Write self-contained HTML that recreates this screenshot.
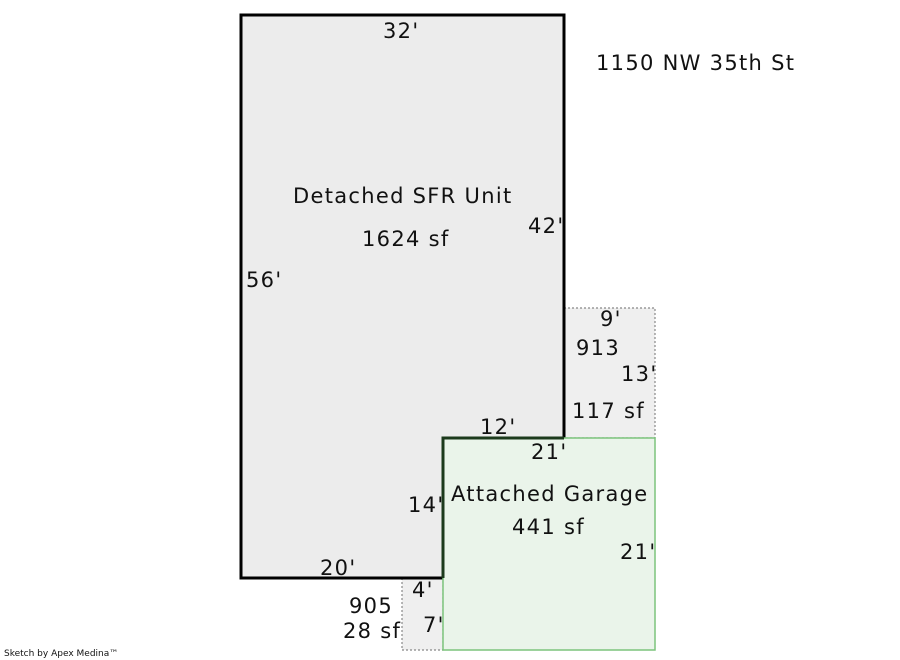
<!DOCTYPE html>
<html><head><meta charset="utf-8"><style>
html,body{margin:0;padding:0;background:#fff;width:900px;height:660px;overflow:hidden}
svg text{font-family:"DejaVu Sans","Liberation Sans",sans-serif;font-size:21px;letter-spacing:1.3px;fill:#111}
</style></head><body>
<svg width="900" height="660" viewBox="0 0 900 660" xmlns="http://www.w3.org/2000/svg">
<rect x="564" y="308" width="91" height="130" fill="#efefef" stroke="#888" stroke-width="1.2" stroke-dasharray="2,2"/>
<rect x="402" y="578" width="41" height="72" fill="#efefef" stroke="#888" stroke-width="1.2" stroke-dasharray="2,2"/>
<polygon points="241,15 564,15 564,438 443,438 443,578 241,578" fill="#ececec" stroke="#000" stroke-width="3"/>
<rect x="443" y="438" width="212" height="212" fill="#eaf4ea" stroke="#7cc47c" stroke-width="1.5"/>
<path d="M564,438 L443,438 L443,578" fill="none" stroke="#1c3a1c" stroke-width="3"/>
<text x="383" y="38">32'</text>
<text x="596" y="70">1150 NW 35th St</text>
<text x="293" y="203">Detached SFR Unit</text>
<text x="362" y="246">1624 sf</text>
<text x="528" y="233">42'</text>
<text x="246" y="287">56'</text>
<text x="600" y="326">9'</text>
<text x="576" y="355">913</text>
<text x="621" y="381">13'</text>
<text x="572" y="418">117 sf</text>
<text x="480" y="434">12'</text>
<text x="531" y="459">21'</text>
<text x="451" y="501">Attached Garage</text>
<text x="512" y="534">441 sf</text>
<text x="620" y="559">21'</text>
<text x="408" y="512">14'</text>
<text x="320" y="575">20'</text>
<text x="412" y="597">4'</text>
<text x="349" y="613">905</text>
<text x="343" y="638">28 sf</text>
<text x="423" y="632">7'</text>
<text x="4" y="656" style="font-size:9px;letter-spacing:0">Sketch by Apex Medina™</text>
</svg>
</body></html>
